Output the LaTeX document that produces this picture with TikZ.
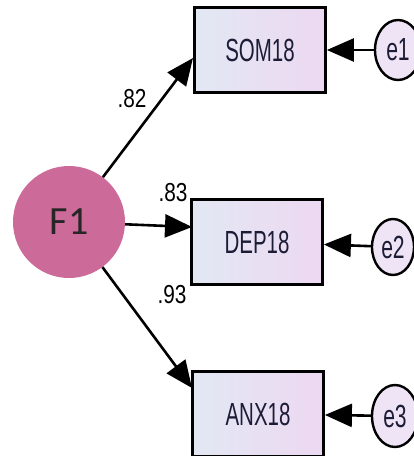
\documentclass[tikz,border=0pt]{standalone}
\usepackage{fontspec}
\setmainfont{Liberation Sans}
\newfontfamily\calib{Carlito}
\usetikzlibrary{arrows.meta,shapes.geometric}
\definecolor{boxL}{RGB}{226,232,243}
\definecolor{boxR}{RGB}{237,216,242}
\definecolor{errfill}{RGB}{238,228,246}
\definecolor{fpink}{RGB}{204,106,153}
\definecolor{txt}{RGB}{28,28,55}
\tikzset{
  obsbox/.style={draw=black, line width=2.8pt, left color=boxL, right color=boxR, minimum width=131pt, minimum height=85pt, inner sep=0pt, text=txt, font=\fontsize{32}{32}\selectfont},
  errnode/.style={draw=black, line width=2.4pt, ellipse, fill=errfill, inner sep=0pt, text=txt, font=\fontsize{32}{32}\selectfont},
  lat/.style={circle, fill=fpink, minimum size=112pt, inner sep=0pt, text=black!85, font=\calib\fontsize{40}{40}\selectfont},
  pathline/.style={draw=black, line width=2.6pt, -{Triangle[length=27pt,width=23pt]}},
  coef/.style={inner sep=0pt, font=\fontsize{26}{26}\selectfont}
}
\begin{document}
\begin{tikzpicture}[x=1pt,y=1pt]
\useasboundingbox (0,0) rectangle (414,-456);
\fill[white] (0,0) rectangle (414,-456);
\node[lat] (F1) at (69,-222) {F1};
\node[obsbox] (som) at (260,-50) {\scalebox{0.64}[1]{SOM18}};
\node[obsbox] (dep) at (257,-242) {\scalebox{0.64}[1]{DEP18}};
\node[obsbox] (anx) at (258,-414) {\scalebox{0.64}[1]{ANX18}};
\node[errnode, minimum width=46pt, minimum height=60pt] (e1) at (398,-50) {\scalebox{0.66}[1]{e1}};
\node[errnode, minimum width=42pt, minimum height=56pt] (e2) at (393,-247) {\scalebox{0.66}[1]{e2}};
\node[errnode, minimum width=46pt, minimum height=62pt] (e3) at (395,-416) {\scalebox{0.66}[1]{e3}};
\coordinate (t1) at (193,-58);
\coordinate (t2) at (192,-227);
\coordinate (t3) at (192,-388);
\draw[pathline] (F1) -- (t1);
\draw[pathline] (F1) -- (t2);
\draw[pathline] (F1) -- (t3);
\draw[pathline] (e1) -- (som);
\draw[pathline] (e2) -- (dep);
\draw[pathline] (e3) -- (anx);
\node[coef] (c1) at (132,-99) {\scalebox{0.8}[1]{.82}};
\node[coef] (c2) at (173,-193) {\scalebox{0.8}[1]{.83}};
\node[coef] (c3) at (172,-295) {\scalebox{0.8}[1]{.93}};
\end{tikzpicture}
\end{document}
